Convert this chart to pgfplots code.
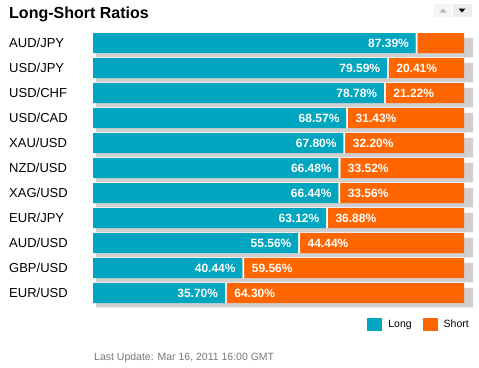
\documentclass[border=0pt]{standalone}
\usepackage{pgfplots}
\pgfplotsset{compat=1.18}
\usepackage{pgfplotstable}
\usepackage{fontspec}
\setmainfont{Liberation Sans}
\definecolor{longc}{RGB}{0,165,192}
\definecolor{shortc}{RGB}{255,102,0}
\definecolor{shadowc}{RGB}{208,208,208}
\definecolor{footc}{RGB}{120,120,120}

\pgfplotstableread{
idx pair long gap short total
0 AUD/JPY 87.39 0.5 12.61 100.5
1 USD/JPY 79.59 0.5 20.41 100.5
2 USD/CHF 78.78 0.5 21.22 100.5
3 USD/CAD 68.57 0.5 31.43 100.5
4 XAU/USD 67.80 0.5 32.20 100.5
5 NZD/USD 66.48 0.5 33.52 100.5
6 XAG/USD 66.44 0.5 33.56 100.5
7 EUR/JPY 63.12 0.5 36.88 100.5
8 AUD/USD 55.56 0.5 44.44 100.5
9 GBP/USD 40.44 0.5 59.56 100.5
10 EUR/USD 35.70 0.5 64.30 100.5
}\ratios

\pgfplotsset{base/.style={scale only axis, height=275pt, xmin=0, xmax=100.5,
  ymin=-0.5, ymax=10.5, y dir=reverse, axis line style={draw=none},
  xtick=\empty, clip=false, major tick length=0pt,
  /pgf/number format/assume math mode=true}}

\begin{document}
\begin{tikzpicture}
\useasboundingbox (0pt,0pt) rectangle (479pt,-367pt);
% shadows
\begin{axis}[base, at={(96pt,-35pt)}, anchor=north west, width=377pt,
  ytick=\empty, xbar, bar width=19.5pt]
\addplot[fill=shadowc, draw=none] table[x=total, y=idx] {\ratios};
\end{axis}
% main bars
\begin{axis}[base, at={(93pt,-30.5pt)}, anchor=north west, width=371pt,
  xbar stacked, bar width=20pt,
  ytick={0,...,10}, yticklabels from table={\ratios}{pair},
  yticklabel style={anchor=west, xshift=-84pt, inner sep=0pt, text=black,
    font=\fontsize{13}{15}\selectfont},
  legend image code/.code={\fill[#1] (0pt,-6.5pt) rectangle (15pt,6.5pt);},
  legend columns=2,
  legend style={at={(1,0)}, anchor=north east, draw=none, fill=none,
    inner sep=0pt, xshift=5pt, yshift=-12.5pt, nodes={inner sep=0pt},
    font=\fontsize{10.5}{12}\selectfont,
    /tikz/every odd column/.append style={column sep=6pt},
    /tikz/every even column/.append style={column sep=11pt}},
]
\addplot[fill=longc, draw=none] table[x=long, y=idx] {\ratios};
\addlegendentry{Long}
\addplot[fill=white, draw=none, forget plot] table[x=gap, y=idx] {\ratios};
\addplot[fill=shortc, draw=none] table[x=short, y=idx] {\ratios};
\addlegendentry{Short}
\end{axis}
% value labels
\begin{axis}[base, at={(93pt,-30.5pt)}, anchor=north west, width=371pt,
  ytick=\empty]
\addplot[draw=none, mark=none, point meta=explicit,
  nodes near coords={\pgfmathprintnumber[fixed,fixed zerofill,precision=2]{\pgfplotspointmeta}\%},
  every node near coord/.append style={anchor=east, xshift=-6.5pt, text=white,
    inner sep=0pt, font=\bfseries\fontsize{12}{14}\selectfont}]
  table[x=long, y=idx, meta=long] {\ratios};
\addplot[draw=none, mark=none, point meta=explicit,
  nodes near coords={\pgfmathfloattofixed{\pgfplotspointmeta}\ifdim\pgfmathresult pt>15pt \pgfmathprintnumber[fixed,fixed zerofill,precision=2]{\pgfplotspointmeta}\%\fi},
  every node near coord/.append style={anchor=west, xshift=7.5pt, text=white,
    inner sep=0pt, font=\bfseries\fontsize{12}{14}\selectfont}]
  table[x expr=\thisrow{long}+\thisrow{gap}, y=idx, meta=short] {\ratios};
\end{axis}
% title, controls, footer
\node[anchor=base west, inner sep=0pt, font=\bfseries\fontsize{16}{19}\selectfont]
  at (9pt,-18.3pt) {Long-Short Ratios};
\fill[gray!8] (434pt,-4pt) rectangle (452pt,-17pt);
\fill[gray!14] (453pt,-4pt) rectangle (472pt,-17pt);
\fill[gray!55] (439.5pt,-12.5pt) -- (446.5pt,-12.5pt) -- (443pt,-8.5pt) -- cycle;
\fill[black] (458.5pt,-8.5pt) -- (465.5pt,-8.5pt) -- (462pt,-12.5pt) -- cycle;
\node[anchor=base west, inner sep=0pt, text=footc, font=\fontsize{10.5}{12}\selectfont]
  at (94pt,-360.5pt) {Last Update: Mar 16, 2011 16:00 GMT};
\end{tikzpicture}
\end{document}
